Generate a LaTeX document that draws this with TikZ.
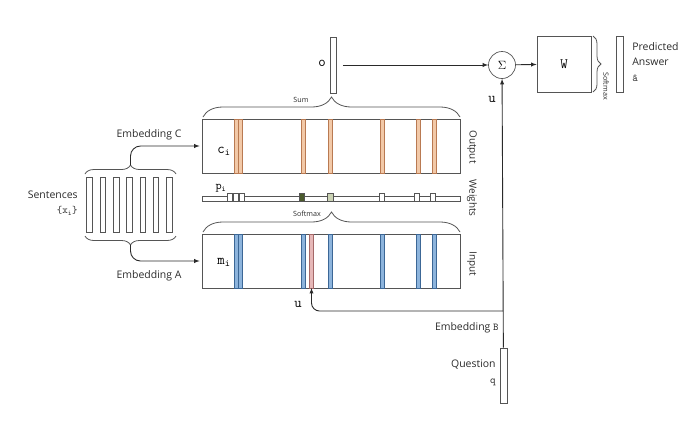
\documentclass[tikz,border=0pt]{standalone}
\usepackage{fontspec}
\setmainfont{Open Sans}
\usetikzlibrary{arrows,positioning,decorations.pathreplacing}

\definecolor{outfill}{HTML}{F2C9A8}
\definecolor{outedge}{HTML}{B97A52}
\definecolor{infill}{HTML}{8DB4DC}
\definecolor{inedge}{HTML}{3C6796}
\definecolor{ufill}{HTML}{E6B8B8}
\definecolor{uedge}{HTML}{A46868}
\definecolor{darkw}{HTML}{4B5A2C}
\definecolor{lightw}{HTML}{CBD3B4}
\definecolor{boxline}{HTML}{555555}
\definecolor{arrline}{HTML}{2A2A2A}

\begin{document}
\begin{tikzpicture}[x=1bp,y=-1bp,>=latex,line width=0.7pt,
    box/.style={draw=boxline,line width=0.7pt,inner sep=0pt},
    vec/.style={box,minimum width=6bp,minimum height=56bp},
    lbl/.style={font=\fontsize{10.5}{15.5}\selectfont,text=arrline,inner sep=1pt},
    tiny/.style={font=\fontsize{7.2}{8}\selectfont,text=arrline,inner sep=1pt},
    sym/.style={font=\Large,inner sep=1pt},
    side/.style={lbl,font=\fontsize{10}{12}\selectfont,rotate=-90},
    brc/.style={decorate,decoration={brace,amplitude=#1},draw=boxline,line width=0.8pt},
    conn/.style={draw=arrline,line width=0.9pt}]
    \useasboundingbox (0,0) rectangle (692,432);

    % memory boxes
    \node[box,minimum width=258bp,minimum height=54bp] (outbox) at (331,146) {};
    \node[box,minimum width=258bp,minimum height=5bp] (wbar) at (331,198.5) {};
    \node[box,minimum width=258bp,minimum height=54bp] (inbox) at (331,261) {};

    \foreach \s in {236,240.5,303,330,382,418,434}
        \draw[fill=outfill,draw=outedge,line width=0.5pt] (\s-2,119) rectangle (\s+2,173);
    \foreach \s in {236,240.5,303,330,382,418,434}
        \draw[fill=infill,draw=inedge,line width=0.5pt] (\s-2,234) rectangle (\s+2,288);
    \draw[fill=ufill,draw=uedge,line width=0.5pt] (309.5,234) rectangle (313.5,288);
    \foreach \s in {230,236,242,382,417,433}
        \draw[fill=white,draw=boxline,line width=0.5pt] (\s-2.5,193.5) rectangle (\s+2.5,201);
    \draw[fill=darkw,draw=boxline,line width=0.5pt] (299.5,193.5) rectangle (304.5,201);
    \draw[fill=lightw,draw=boxline,line width=0.5pt] (327,193.5) rectangle (333,201);

    % sentences
    \foreach \i in {0,...,6}
        \node[box,minimum width=5.5bp,minimum height=55bp] (s\i) at (89.5+13.3*\i,204.5) {};

    % vectors and ops
    \node[vec] (ovec) at (333.5,65) {};
    \node[draw=boxline,circle,minimum size=27bp,inner sep=0pt,font=\large] (sum) at (502,65) {$\Sigma$};
    \node[box,minimum width=54bp,minimum height=56bp,font=\Large\ttfamily] (wmat) at (564,64) {W};
    \node[vec,minimum width=7bp] (ans) at (619.5,64) {};
    \node[vec,minimum width=7bp,minimum height=55bp] (qvec) at (503.5,375.5) {};

    % braces
    \draw[brc=20bp] (203,117) -- (460,117);
    \draw[brc=20bp] (203,232) -- (460,232);
    \draw[brc=9bp] (85,174) -- (176,174);
    \draw[brc=9bp] (176,236) -- (85,236);
    \draw[brc=8bp] (593,36) -- (593,92);

    \coordinate (ctip) at (130.5,165);
    \coordinate (atip) at (130.5,245);
    \coordinate (ubr) at (503,311);
    \coordinate (uin) at (311.5,288);

    \draw[->,conn,rounded corners=10bp,shorten >=2bp] (ctip) |- (outbox.west);
    \draw[->,conn,rounded corners=10bp,shorten >=2bp] (atip) |- (inbox.west);
    \draw[->,conn,shorten <=6bp] (ovec) -- (sum);
    \draw[->,conn] (sum) -- (wmat);
    \draw[->,conn] (qvec) -- (sum);
    \draw[->,conn,rounded corners=8bp] (ubr) -| (uin);

    % labels
    \node[lbl] (embC) at (149,135) {Embedding C};
    \node[lbl] (embA) at (149,276) {Embedding A};
    \node[lbl,anchor=east] (embB) at (500,328) {Embedding {\ttfamily B}};
    \node[lbl,anchor=east,align=right] (sent) at (79,203) {Sentences\\{\ttfamily\{x\textsubscript{i}\}}};
    \node[lbl,anchor=east,align=right] (qlbl) at (497,373) {Question\\{\ttfamily q}};
    \node[lbl,anchor=west,align=left] (alb) at (631,62) {Predicted\\Answer\\{\ttfamily\^{a}}};
    \node[tiny] (sumlbl) at (301,100) {Sum};
    \node[tiny] (smlbl) at (307,214) {Softmax};
    \node[tiny,rotate=-90] (smw) at (606,86) {Softmax};
    \node[side] (outlbl) at (472,147) {Output};
    \node[side] (wlbl) at (472,198) {Weights};
    \node[side] (inlbl) at (472,264) {Input};
    \node[sym] (clbl) at (224,151) {$\mathtt{c}_{\mathtt{i}}$};
    \node[sym] (mlbl) at (224,262) {$\mathtt{m}_{\mathtt{i}}$};
    \node[sym,font=\large] (plbl) at (221,188) {$\mathtt{p}_{\mathtt{i}}$};
    \node[sym] (olbl) at (322,63) {$\mathtt{o}$};
    \node[sym] (ulbl) at (298,304) {$\mathtt{u}$};
    \node[sym] (ulbl2) at (492,99) {$\mathtt{u}$};
\end{tikzpicture}
\end{document}
